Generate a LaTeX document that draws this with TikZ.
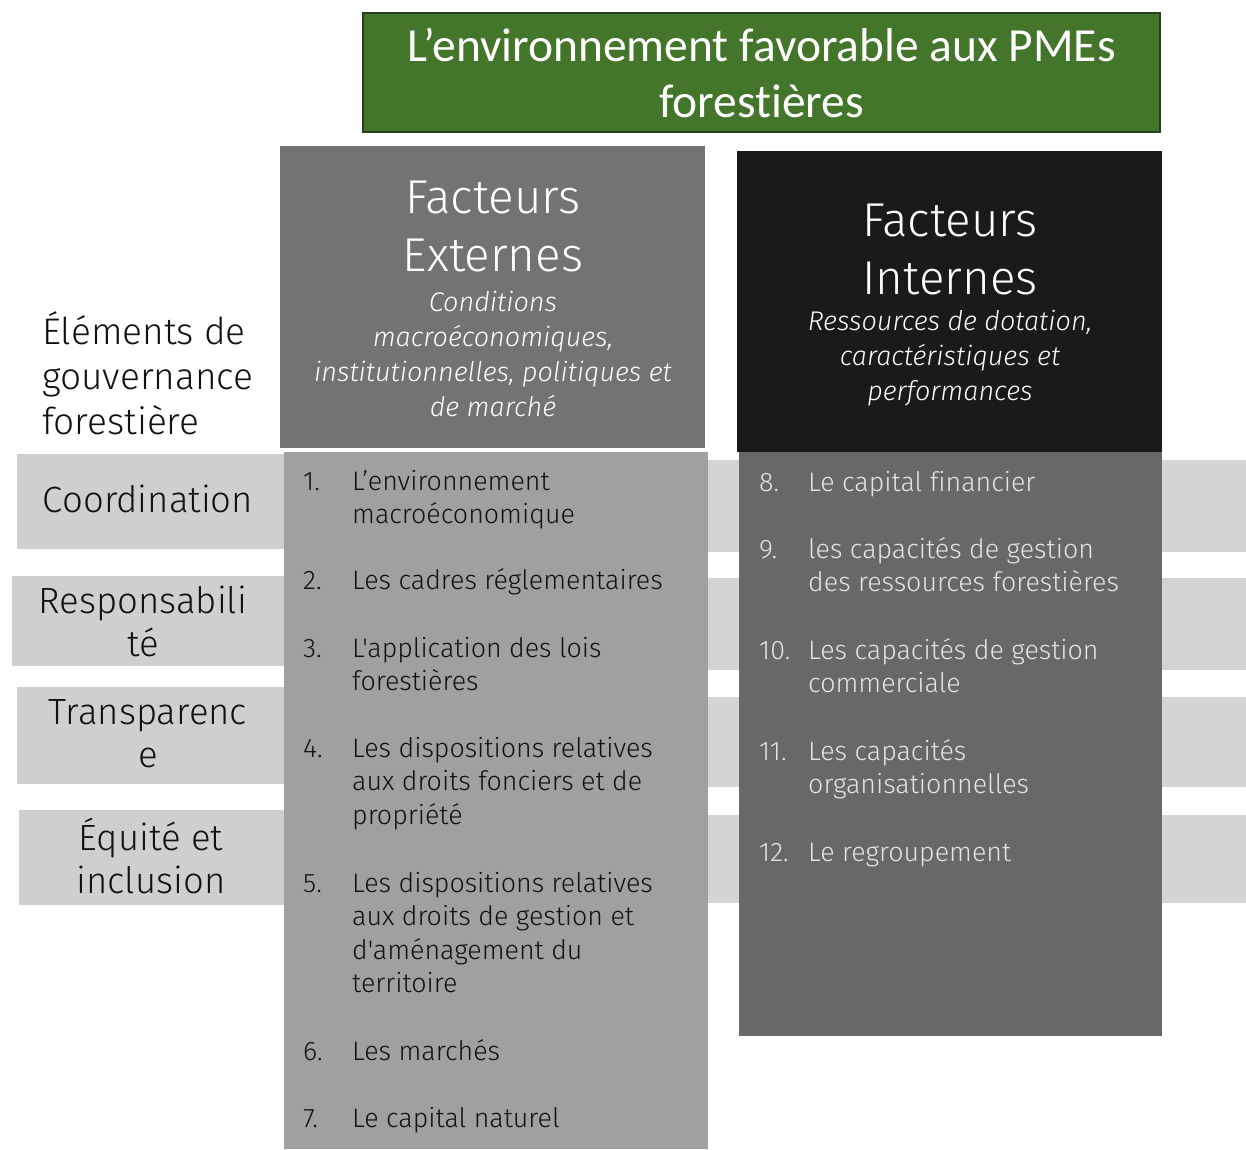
\documentclass[tikz,border=0pt]{standalone}
\usepackage{fontspec}
\setmainfont{Fira Sans}[UprightFont=* Light, ItalicFont=* Light Italic, Ligatures={TeXOff,CommonOff}]
\newfontfamily\titlefont{Carlito}[Ligatures={CommonOff}]
\definecolor{greenfill}{HTML}{43752A}
\definecolor{greendraw}{HTML}{27401A}
\definecolor{exthead}{HTML}{737373}
\definecolor{extlist}{HTML}{A0A0A0}
\definecolor{inthead}{HTML}{1A1A1A}
\definecolor{intlist}{HTML}{686868}
\definecolor{bandL}{HTML}{CFCFCF}
\definecolor{bandR}{HTML}{D4D4D4}
\definecolor{inttext}{HTML}{E4E4E4}
\definecolor{darktext}{HTML}{111111}
\begin{document}
\begin{tikzpicture}[x=1pt,y=-1pt,
  box/.style={anchor=north west, inner sep=0, outer sep=0, draw=none},
  band/.style={box, fill=bandL},
  bandr/.style={box, fill=bandR},
  headtitle/.style={text=white, align=center, inner sep=0, font=\fontsize{47.5}{58}\selectfont},
  headsub/.style={text=white, align=center, inner sep=0, font=\fontsize{27}{35}\selectfont\itshape},
  bandlabel/.style={text=darktext, align=center, inner sep=0, font=\fontsize{36.5}{43}\selectfont},
  item/.style={anchor=base west, inner sep=0, font=\fontsize{26.8}{33.6}\selectfont},
  extitem/.style={item, text=darktext},
  intitem/.style={item, text=inttext}
]
\useasboundingbox (0,0) rectangle (1246,1149);
\fill[white] (0,0) rectangle (1246,1149);

% background bands (left segments)
\node[band, minimum width=270pt, minimum height=95pt] (b1) at (17,454) {};
\node[band, minimum width=275pt, minimum height=90pt] (b2) at (12,576) {};
\node[band, minimum width=270pt, minimum height=97pt] (b3) at (17,687) {};
\node[band, minimum width=268pt, minimum height=95pt] (b4) at (19,810) {};
% background bands (right segments)
\node[bandr, minimum width=538pt, minimum height=92pt] (r1) at (708,460) {};
\node[bandr, minimum width=538pt, minimum height=92pt] (r2) at (708,578) {};
\node[bandr, minimum width=538pt, minimum height=90pt] (r3) at (708,697) {};
\node[bandr, minimum width=538pt, minimum height=88pt] (r4) at (708,815) {};

% title
\node[box, fill=greenfill, draw=greendraw, line width=2pt, minimum width=797pt, minimum height=119pt] (titlebox) at (363,13) {};
\node[text=white, align=center, inner sep=0, font=\titlefont\fontsize{47.5}{56}\selectfont] (title) at (titlebox.center) {L’environnement favorable aux PMEs\\forestières};

% external column
\node[box, fill=exthead, minimum width=425pt, minimum height=302pt] (exth) at (280,146) {};
\node[box, fill=extlist, minimum width=424pt, minimum height=697pt] (extl) at (284,452) {};
\node[headtitle] (extT) at (493,226) {Facteurs\\Externes};
\node[headsub] (extS) at (493,354) {Conditions\\macroéconomiques,\\institutionnelles, politiques et\\de marché};

% internal column
\node[box, fill=inthead, minimum width=425pt, minimum height=301pt] (inth) at (737,151) {};
\node[box, fill=intlist, minimum width=423pt, minimum height=584pt] (intl) at (739,452) {};
\node[headtitle] (intT) at (950,249) {Facteurs\\Internes};
\node[headsub] (intS) at (950,358) {Ressources de dotation,\\caractéristiques et\\performances};

% left labels
\node[text=darktext, align=left, anchor=west, inner sep=0, font=\fontsize{37}{45}\selectfont] (elem) at (42,373) {Éléments de\\gouvernance\\forestière};
\node[bandlabel] (l1) at (148,499) {Coordination};
\node[bandlabel] (l2) at (143,621.5) {Responsabili\\té};
\node[bandlabel] (l3) at (148,733.5) {Transparenc\\e};
\node[bandlabel] (l4) at (151,855.5) {Équité et\\inclusion};

% external items
\node[extitem] (e1) at (303,490) {\makebox[49pt][l]{1.}\parbox[t]{340pt}{L’environnement\\macroéconomique}};
\node[extitem] (e2) at (303,589) {\makebox[49pt][l]{2.}\parbox[t]{340pt}{Les cadres réglementaires}};
\node[extitem] (e3) at (303,657) {\makebox[49pt][l]{3.}\parbox[t]{340pt}{L'application des lois\\forestières}};
\node[extitem] (e4) at (303,757) {\makebox[49pt][l]{4.}\parbox[t]{340pt}{Les dispositions relatives\\aux droits fonciers et de\\propriété}};
\node[extitem] (e5) at (303,892) {\makebox[49pt][l]{5.}\parbox[t]{340pt}{Les dispositions relatives\\aux droits de gestion et\\d'aménagement du\\territoire}};
\node[extitem] (e6) at (303,1060) {\makebox[49pt][l]{6.}\parbox[t]{340pt}{Les marchés}};
\node[extitem] (e7) at (303,1127) {\makebox[49pt][l]{7.}\parbox[t]{340pt}{Le capital naturel}};

% internal items
\node[intitem] (i8) at (759,491) {\makebox[49pt][l]{8.}\parbox[t]{340pt}{Le capital financier}};
\node[intitem] (i9) at (759,558) {\makebox[49pt][l]{9.}\parbox[t]{340pt}{les capacités de gestion\\des ressources forestières}};
\node[intitem] (i10) at (759,659) {\makebox[49pt][l]{10.}\parbox[t]{340pt}{Les capacités de gestion\\commerciale}};
\node[intitem] (i11) at (759,760) {\makebox[49pt][l]{11.}\parbox[t]{340pt}{Les capacités\\organisationnelles}};
\node[intitem] (i12) at (759,861) {\makebox[49pt][l]{12.}\parbox[t]{340pt}{Le regroupement}};
\end{tikzpicture}
\end{document}
